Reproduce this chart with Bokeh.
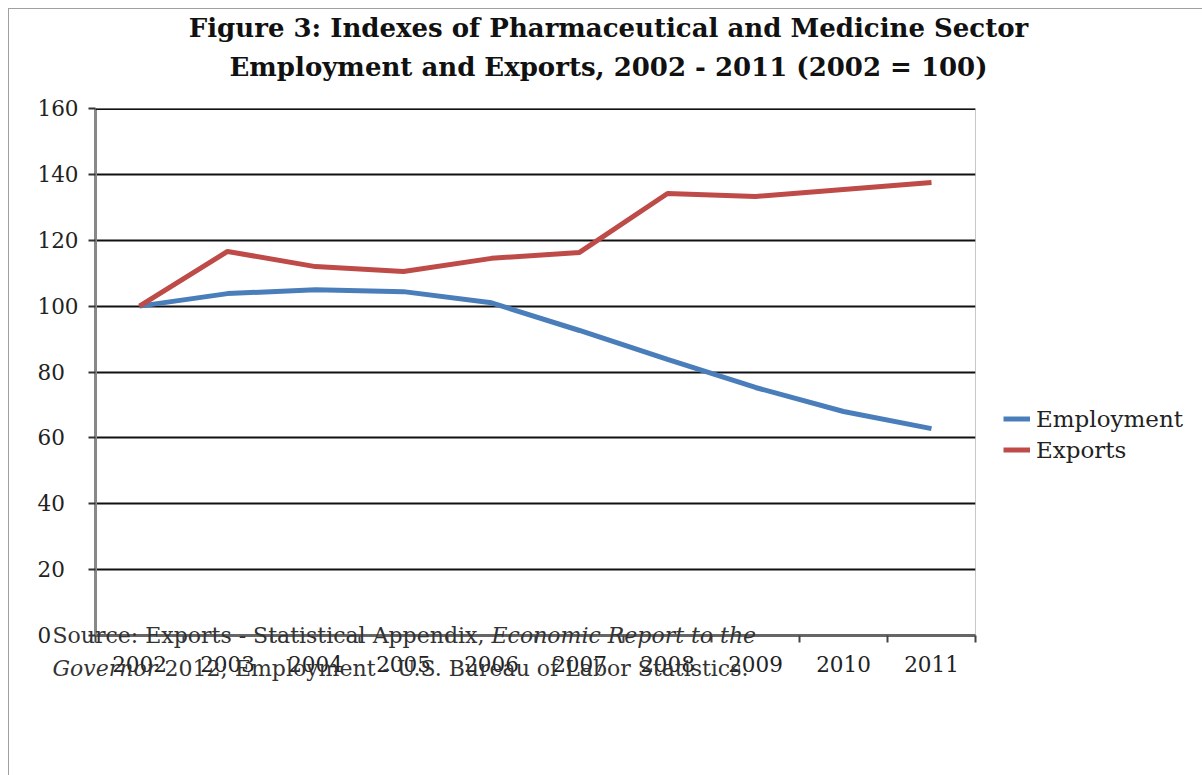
from bokeh.plotting import figure
from bokeh.models import (Range1d, FixedTicker, Legend, LegendItem, Label, Span)
from bokeh.embed import file_html
from bokeh.resources import INLINE

years = ["2002", "2003", "2004", "2005", "2006", "2007", "2008", "2009", "2010", "2011"]
employment = [100, 103.8, 105.0, 104.4, 101.0, 92.6, 83.8, 75.3, 68.0, 62.8]
exports = [100, 116.6, 112.0, 110.5, 114.5, 116.3, 134.2, 133.3, 135.4, 137.5]
y_ticks = [0, 20, 40, 60, 80, 100, 120, 140, 160]

title_lines = ["Figure 3: Indexes of Pharmaceutical and Medicine Sector",
               "Employment and Exports, 2002 - 2011 (2002 = 100)"]
src1_normal = "Source: Exports - Statistical Appendix, "
src1_italic = "Economic Report to the"
src2_italic = "Governor"
src2_normal = " 2012; Employment - U.S. Bureau of Labor Statistics."

SERIF = "DejaVu Serif"

xs = [i + 0.5 for i in range(len(years))]

p = figure(width=1193, height=766, output_backend="svg", toolbar_location=None,
           x_range=Range1d(0, len(years)), y_range=Range1d(0, 160),
           frame_width=880, frame_height=527,
           min_border_left=86, min_border_right=227, min_border_top=99, min_border_bottom=140,
           styles={"margin-left": "8px", "margin-top": "8px",
                   "border-left": "1px solid #a0a0a0", "border-top": "1px solid #a0a0a0"})

p.background_fill_color = "white"
p.border_fill_color = "white"
p.outline_line_color = "#c8c8c8"
p.outline_line_width = 1

# lines
r_emp = p.line(xs, employment, line_color="#4A7EBB", line_width=5)
r_exp = p.line(xs, exports, line_color="#BE4B48", line_width=5)

# grid
p.xgrid.visible = False
p.ygrid.grid_line_color = "#111111"
p.ygrid.grid_line_width = 2
p.ygrid.ticker = FixedTicker(ticks=y_ticks)
p.add_layout(Span(location=y_ticks[-1], dimension="width", line_color="#111111",
                  line_width=3, level="overlay"))

# y axis (labels left-aligned as in the original: pad with figure spaces)
width_max = max(len(str(t)) for t in y_ticks)
p.yaxis.ticker = FixedTicker(ticks=y_ticks)
p.yaxis.major_label_overrides = {t: str(t) + "\u2007" * (width_max - len(str(t))) for t in y_ticks}
p.yaxis.axis_line_color = "#888888"
p.yaxis.axis_line_width = 3
p.yaxis.major_tick_line_color = "#333333"
p.yaxis.major_tick_line_width = 2
p.yaxis.major_tick_out = 7
p.yaxis.major_tick_in = 0
p.yaxis.minor_tick_line_color = None
p.yaxis.major_label_text_font = SERIF
p.yaxis.major_label_text_font_size = "21.5px"
p.yaxis.major_label_text_color = "#222222"
p.yaxis.major_label_standoff = 10

# x axis: labels at category centres, ticks at boundaries
p.xaxis.ticker = FixedTicker(ticks=xs, minor_ticks=list(range(len(years) + 1)))
p.xaxis.major_label_overrides = {x: y for x, y in zip(xs, years)}
p.xaxis.axis_line_color = "#666666"
p.xaxis.axis_line_width = 3
p.xaxis.major_tick_line_color = None
p.xaxis.major_tick_out = 7
p.xaxis.minor_tick_line_color = "#444444"
p.xaxis.minor_tick_line_width = 2
p.xaxis.minor_tick_out = 7
p.xaxis.minor_tick_in = 0
p.xaxis.major_label_text_font = SERIF
p.xaxis.major_label_text_font_size = "21.5px"
p.xaxis.major_label_text_color = "#222222"
p.xaxis.major_label_standoff = 13

# legend (side panel, so it is not clipped by the frame)
legend = Legend(items=[LegendItem(label="Employment", renderers=[r_emp]),
                       LegendItem(label="Exports", renderers=[r_exp])],
                location=(28, 170), border_line_color=None, background_fill_alpha=0,
                label_text_font=SERIF, label_text_font_size="23px", label_text_color="#222222",
                glyph_width=27, glyph_height=31, label_height=31, spacing=0, padding=0,
                margin=0, label_standoff=6)
p.add_layout(legend, "right")

# title (two centred lines)
for line, yoff in zip(title_lines, [81, 42]):
    p.add_layout(Label(x=5, y=160, x_offset=73, y_offset=yoff, text=line,
                       text_font=SERIF, text_font_style="bold", text_font_size="26px",
                       text_color="#111111", text_align="center", text_baseline="middle"),
                 "above")

# source note (overlapping the axis as in the original)
def src(text, xoff, yoff, style):
    p.add_layout(Label(x=0, y=0, x_offset=xoff, y_offset=yoff, text=text,
                       text_font=SERIF, text_font_size="22px", text_font_style=style,
                       text_color="#333333", text_baseline="middle", text_align="left"),
                 "below")

src(src1_normal, -43, 0, "normal")
src(src1_italic, 396, 0, "italic")
src(src2_italic, -43, -33, "italic")
src(src2_normal, 69, -33, "normal")

open("out.html", "w").write(file_html(p, INLINE))
